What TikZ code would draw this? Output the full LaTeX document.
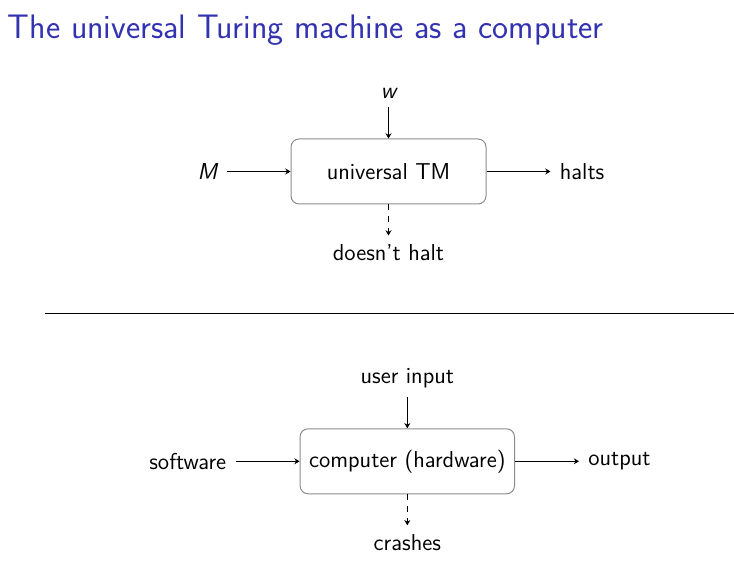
\documentclass[tikz,border=0pt]{standalone}
\usepackage{fontspec}
\usetikzlibrary{positioning,arrows.meta}
\definecolor{titleblue}{rgb}{0.2,0.2,0.7}
\begin{document}
\begin{tikzpicture}[x=0.5pt,y=-0.5pt,
  font=\sffamily\fontsize{11.5}{13.8}\selectfont,
  machine/.style={draw=black!45, line width=0.5pt, rounded corners=4pt,
    minimum width=97.5pt, minimum height=32.5pt, inner sep=4.5pt},
  lab/.style={inner sep=4.5pt},
  flow/.style={-{Stealth[length=2.6pt,width=3pt]}, line width=0.45pt},
  dflow/.style={flow, dashed},
  node distance=15.5pt and 32pt]
\useasboundingbox (0,0) rectangle (734,565);
\node[anchor=base west, text=titleblue, font=\sffamily\fontsize{17}{20}\selectfont, inner sep=0pt]
  (title) at (7.5,39) {The universal Turing machine as a computer};

% top diagram
\node[machine] (utm) at (388.5,171.5) {universal TM};
\node[lab, left=of utm] (M) {\itshape M};
\node[lab, right=of utm] (halts) {halts};
\node[lab, above=of utm] (w) {\itshape w};
\node[lab, below=of utm] (dh) {doesn't halt};
\draw[flow] (M) -- (utm);
\draw[flow] (utm) -- (halts);
\draw[flow] (w) -- (utm);
\draw[dflow] (utm) -- (dh);

% divider
\coordinate (d1) at (45,314);
\coordinate (d2) at (734,314);
\draw[line width=0.5pt] (d1) -- (d2);

% bottom diagram
\node[machine] (comp) at (407.3,461.3) {computer (hardware)};
\node[lab, left=of comp] (sw) {software};
\node[lab, right=of comp] (out) {output};
\node[lab, above=of comp] (ui) {user input};
\node[lab, below=of comp] (cr) {crashes};
\draw[flow] (sw) -- (comp);
\draw[flow] (comp) -- (out);
\draw[flow] (ui) -- (comp);
\draw[dflow] (comp) -- (cr);
\end{tikzpicture}
\end{document}
